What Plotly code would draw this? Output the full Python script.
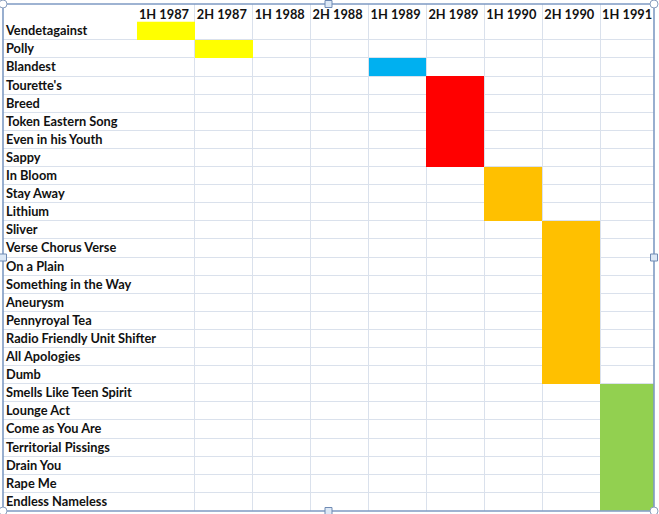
import plotly.graph_objects as go
import numpy as np

periods = ["1H 1987", "2H 1987", "1H 1988", "2H 1988", "1H 1989",
           "2H 1989", "1H 1990", "2H 1990", "1H 1991"]

songs = ["Vendetagainst", "Polly", "Blandest", "Tourette's", "Breed",
         "Token Eastern Song", "Even in his Youth", "Sappy", "In Bloom",
         "Stay Away", "Lithium", "Sliver", "Verse Chorus Verse", "On a Plain",
         "Something in the Way", "Aneurysm", "Pennyroyal Tea",
         "Radio Friendly Unit Shifter", "All Apologies", "Dumb",
         "Smells Like Teen Spirit", "Lounge Act", "Come as You Are",
         "Territorial Pissings", "Drain You", "Rape Me", "Endless Nameless"]

song_period = ["1H 1987", "2H 1987", "1H 1989", "2H 1989", "2H 1989",
               "2H 1989", "2H 1989", "2H 1989", "1H 1990",
               "1H 1990", "1H 1990", "2H 1990", "2H 1990", "2H 1990",
               "2H 1990", "2H 1990", "2H 1990",
               "2H 1990", "2H 1990", "2H 1990",
               "1H 1991", "1H 1991", "1H 1991",
               "1H 1991", "1H 1991", "1H 1991", "1H 1991"]

# colour group of each song: 1 yellow, 2 blue, 3 red, 4 orange, 5 green
song_group = [1, 1, 2, 3, 3, 3, 3, 3, 4, 4, 4, 4, 4, 4, 4, 4, 4, 4, 4, 4,
              5, 5, 5, 5, 5, 5, 5]
group_colors = ["#FFFF00", "#00B0F0", "#FF0000", "#FFC000", "#92D050"]

# build cell matrix
z = np.full((len(songs), len(periods)), np.nan)
for i, (p, g) in enumerate(zip(song_period, song_group)):
    z[i, periods.index(p)] = g

n = len(group_colors)
colorscale = []
for k, c in enumerate(group_colors):
    colorscale.append([k / n, c])
    colorscale.append([(k + 1) / n, c])

GRID = "#DAE1EC"
FRAME = "#7F9BC4"
FONT = dict(family="Lato", size=12.8, color="#111111", weight="bold")

fig = go.Figure(go.Heatmap(
    x=periods, y=songs, z=z,
    zmin=0.5, zmax=n + 0.5,
    colorscale=colorscale, showscale=False,
    xgap=0, ygap=0, hoverinfo="skip",
))

fig.update_xaxes(
    type="category", categoryorder="array", categoryarray=periods,
    side="top", ticklabelposition="inside", tickson="boundaries",
    ticks="", showgrid=True, gridcolor=GRID, gridwidth=1,
    range=[-2.814, 8.429], tickfont=FONT, ticklabelshift=-2,
    ticklabelstandoff=3, automargin=False, tickangle=0,
    showline=False, fixedrange=True,
)
fig.update_yaxes(
    type="category", categoryorder="array", categoryarray=songs,
    ticklabelposition="inside", tickson="boundaries",
    ticks="", showgrid=True, gridcolor=GRID, gridwidth=1,
    range=[26.53, -1.48], tickfont=FONT, automargin=False,
    showline=False, fixedrange=True,
)

long_row = songs.index("Radio Friendly Unit Shifter")
shapes = [
    # overflowing label hides the column-border gridline (spreadsheet style)
    dict(type="rect", xref="x", yref="y", x0=-0.56, x1=-0.44,
         y0=long_row - 0.45, y1=long_row + 0.45,
         fillcolor="white", line=dict(width=0), layer="between"),
    dict(type="rect", xref="paper", yref="paper", x0=0, x1=1, y0=0, y1=1,
         line=dict(color=FRAME, width=1.6), fillcolor="rgba(0,0,0,0)",
         layer="above"),
]
# Excel-style selection handles on the frame
for (px, py) in [(0, 1), (1, 1), (1, 0), (0, 0)]:
    shapes.append(dict(type="circle", xref="paper", yref="paper",
                       xsizemode="pixel", ysizemode="pixel",
                       xanchor=px, yanchor=py, x0=-4, x1=4, y0=-4, y1=4,
                       fillcolor="white", line=dict(color="#8A9FBF", width=1),
                       layer="above"))
for (px, py) in [(0.5, 1), (1, 0.5), (0.5, 0), (0, 0.5)]:
    shapes.append(dict(type="rect", xref="paper", yref="paper",
                       xsizemode="pixel", ysizemode="pixel",
                       xanchor=px, yanchor=py, x0=-3.5, x1=3.5, y0=-3.5, y1=3.5,
                       fillcolor="#DCE8F6", line=dict(color="#6F8AB3", width=1),
                       layer="above"))

fig.update_layout(
    width=659, height=514,
    margin=dict(l=3, r=5, t=4, b=3, autoexpand=False),
    paper_bgcolor="white", plot_bgcolor="white",
    shapes=shapes, showlegend=False,
)

fig.write_html("out.html",
               config={"displayModeBar": False, "staticPlot": True},
               post_script="document.body.style.margin='0';"
                           "document.body.style.overflow='hidden';")
